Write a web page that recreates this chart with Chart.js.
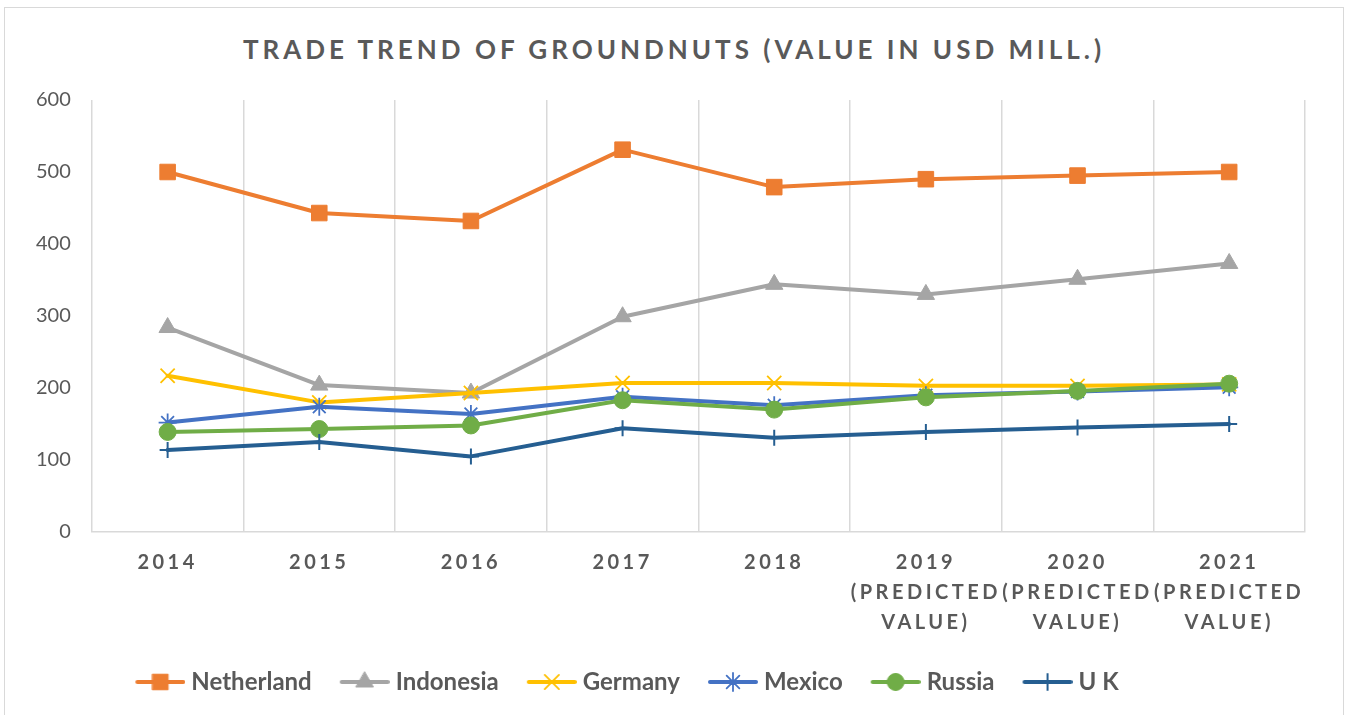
<!DOCTYPE html>
<html>
<head>
<meta charset="utf-8">
<title>Trade trend of groundnuts</title>
<script src="https://cdn.jsdelivr.net/npm/chart.js@4.4.1/dist/chart.umd.min.js"></script>
<style>
  body { margin: 0; background: #fff; }
  #frame { position: absolute; left: 4px; top: 7px; width: 1338px; height: 720px; border: 1px solid #d9d9d9; }
  #title { position: absolute; left: 0; top: 33px; width: 1348px; text-align: center;
           font: bold 26px Lato, sans-serif; letter-spacing: 4px; color: #595959; }
  canvas { position: absolute; left: 0; top: 0; }
</style>
</head>
<body>
<div id="frame"></div>
<div id="title">TRADE TREND OF GROUNDNUTS (VALUE IN USD MILL.)</div>
<canvas id="tradeChart" width="1348" height="715"></canvas>
<script>
// categories (multi-line tick labels)
const years = [
  ["2014"], ["2015"], ["2016"], ["2017"], ["2018"],
  ["2019", "(PREDICTED", "VALUE)"],
  ["2020", "(PREDICTED", "VALUE)"],
  ["2021", "(PREDICTED", "VALUE)"]
];

// values, USD million
const netherland = [500, 443, 432, 531, 479, 490, 495, 500];
const indonesia = [284, 204, 193, 299, 344, 330, 351, 373];
const germany = [217, 180, 193, 207, 207, 203, 203, 205];
const mexico = [152, 174, 164, 188, 176, 190, 195, 201];
const russia = [139, 143, 148, 183, 170, 187, 196, 206];
const uk = [114, 125, 105, 144, 131, 139, 145, 150];

const yTicks = [0, 100, 200, 300, 400, 500, 600];
const seriesNames = ["Netherland", "Indonesia", "Germany", "Mexico", "Russia", "U K"];
const seriesValues = [netherland, indonesia, germany, mexico, russia, uk];

// looks
const seriesColors = ["#ED7D31", "#A5A5A5", "#FFC000", "#4472C4", "#70AD47", "#255E91"];
const markers = ["rect", "triangle", "crossRot", "star", "circle", "cross"];
const markerSizes = [11, 10, 10, 9, 8.5, 8];
const markerBorders = [1, 1, 1.8, 1.8, 1, 2];
const textGray = "#595959";

// legend icon = short line with the marker in the middle
// (drawn right of centre so there is a gap before each entry)
const makeIcon = (color, style, radius, bw) => {
  const c = document.createElement("canvas");
  c.width = 68;
  c.height = 26;
  const g = c.getContext("2d");
  g.strokeStyle = color;
  g.fillStyle = color;
  g.lineWidth = 4;
  g.lineCap = "round";
  g.beginPath();
  g.moveTo(20, 13);
  g.lineTo(66, 13);
  g.stroke();
  g.lineWidth = bw;
  Chart.helpers.drawPoint(g, { pointStyle: style, radius: radius, rotation: 0, borderWidth: bw }, 43, 13);
  return c;
};
const legendIcons = seriesNames.map((n, i) => makeIcon(seriesColors[i], markers[i], markerSizes[i], markerBorders[i]));

// spaced-out x labels + nudge legend to the left like the original
const tweaks = {
  id: "tweaks",
  afterUpdate(chart) {
    const sx = chart.scales.x;
    if (sx._spaced) return;
    const orig = sx.drawLabels;
    sx.drawLabels = function (area) {
      this.ctx.save();
      this.ctx.letterSpacing = "3.5px";
      orig.call(this, area);
      this.ctx.restore();
    };
    sx._spaced = true;
  },
  afterLayout(chart) {
    chart.legend.left -= 39;
    chart.legend.right -= 39;
  }
};

const datasets = seriesNames.map((name, i) => ({
  label: name,
  data: seriesValues[i],
  borderColor: seriesColors[i],
  backgroundColor: seriesColors[i],
  borderWidth: 4,
  borderCapStyle: "round",
  borderJoinStyle: "round",
  pointStyle: markers[i],
  pointRadius: markerSizes[i],
  pointBorderWidth: markerBorders[i],
  pointBackgroundColor: seriesColors[i],
  pointBorderColor: seriesColors[i],
  tension: 0,
  order: seriesNames.length - i
}));

new Chart("tradeChart", {
  type: "line",
  data: { labels: years, datasets: datasets },
  plugins: [tweaks],
  options: {
    responsive: false,
    animation: false,
    events: [],
    layout: { padding: { top: 100, left: 15, right: 43, bottom: 11 } },
    plugins: {
      title: { display: false },
      tooltip: { enabled: false },
      legend: {
        position: "bottom",
        labels: {
          usePointStyle: true,
          pointStyleWidth: 56,
          padding: 16,
          color: textGray,
          font: { family: "Lato", size: 24, weight: "bold" },
          generateLabels: (chart) => chart.data.datasets.map((ds, i) => ({
            text: ds.label,
            pointStyle: legendIcons[i],
            fillStyle: "transparent",
            strokeStyle: "transparent",
            lineWidth: 0,
            fontColor: textGray,
            hidden: false,
            datasetIndex: i
          }))
        }
      }
    },
    scales: {
      x: {
        offset: true,
        grid: { offset: true, color: "#d9d9d9", lineWidth: 1.5, drawTicks: false },
        border: { color: "#d9d9d9", width: 1.5 },
        ticks: {
          color: textGray,
          font: { family: "Lato", size: 20, weight: "bold", lineHeight: 1.5 },
          padding: 16,
          maxRotation: 0,
          autoSkip: false
        }
      },
      y: {
        min: yTicks[0],
        max: yTicks[yTicks.length - 1],
        afterBuildTicks: (scale) => { scale.ticks = yTicks.map(v => ({ value: v })); },
        grid: { display: false, drawTicks: false },
        border: { display: false },
        ticks: { color: textGray, font: { family: "Lato", size: 20 }, padding: 21 }
      }
    }
  }
});
</script>
</body>
</html>
